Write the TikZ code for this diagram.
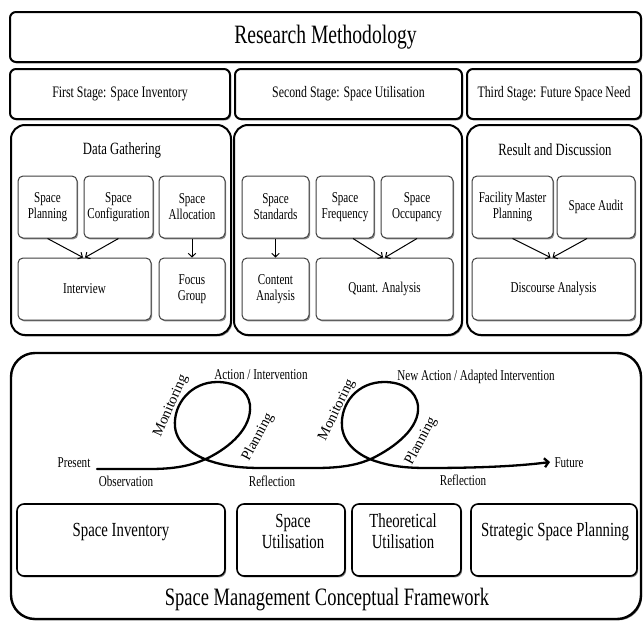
\documentclass[tikz,border=0pt]{standalone}
\usepackage{fontspec}
\setmainfont{Liberation Serif}[FakeStretch=0.74]
\newfontfamily\rotfont{Liberation Serif}
\usetikzlibrary{arrows.meta,shadows}
\begin{document}
\begin{tikzpicture}[x=1pt,y=-1pt,
  shad/.style={drop shadow={shadow xshift=1.2pt,shadow yshift=-1.4pt,opacity=0.45,fill=black}},
  topbox/.style={draw,line width=2pt,rounded corners=6pt,fill=white,shad,align=center,inner sep=0pt},
  outerbox/.style={draw,line width=2pt,rounded corners=14pt,fill=white,shad,inner sep=0pt},
  inbox/.style={draw=black!75,line width=1pt,rounded corners=5pt,fill=white,shad,align=center,inner sep=1pt,
    minimum height=62pt,font=\fontsize{15}{16}\selectfont},
  lowbox/.style={draw,line width=1.6pt,rounded corners=7pt,fill=white,shad,minimum height=72pt,inner sep=0pt},
  lowtext/.style={align=center,font=\fontsize{20}{21}\selectfont},
  head/.style={font=\fontsize{17.2}{18}\selectfont},
  lbl/.style={font=\fontsize{15}{16}\selectfont,inner sep=0pt},
  rlbl/.style={font=\rotfont\fontsize{14.5}{16}\selectfont,inner sep=0pt},
  arr/.style={line width=1pt,-{Straight Barb[length=3.5pt,width=7.5pt]}},
  curve/.style={line width=2.3pt,line cap=round,-{Straight Barb[length=4pt,width=9pt]}}]
\fill[white] (0,0) rectangle (644,621);
\useasboundingbox (0,0) rectangle (644,621);

% Research methodology
\node[topbox,minimum width=631pt,minimum height=50pt,font=\fontsize{26.5}{28}\selectfont] (rm) at (325.5,37) {Research Methodology};
\node[topbox,minimum width=220pt,minimum height=50pt,font=\fontsize{16}{17}\selectfont] (st1) at (120,94) {First Stage: Space Inventory};
\node[topbox,minimum width=227pt,minimum height=50pt,font=\fontsize{16}{17}\selectfont] (st2) at (348.5,94) {Second Stage: Space Utilisation};
\node[topbox,minimum width=174pt,minimum height=50pt,font=\fontsize{16}{17}\selectfont] (st3) at (554,94) {Third Stage: Future Space Need};

% outer panels
\node[outerbox,minimum width=220pt,minimum height=210pt] (o1) at (121,230) {};
\node[outerbox,minimum width=228pt,minimum height=210pt] (o2) at (348,230) {};
\node[outerbox,minimum width=174pt,minimum height=210pt] (o3) at (554,230) {};
\node[head] (dg) at (122,150) {Data Gathering};
\node[head] (rd) at (555,150) {Result and Discussion};

% inner boxes row 1
\node[inbox,minimum width=59pt] (sp) at (47.5,207) {Space\\Planning};
\node[inbox,minimum width=69pt] (sc) at (118.5,207) {Space\\Configuration};
\node[inbox,minimum width=66pt] (sa) at (192,207) {Space\\Allocation};
\node[inbox,minimum width=67pt] (ss) at (275.5,207) {Space\\Standards};
\node[inbox,minimum width=58pt] (sf) at (345,207) {Space\\Frequency};
\node[inbox,minimum width=72pt] (so) at (417,207) {Space\\Occupancy};
\node[inbox,minimum width=81pt] (fmp) at (512.5,207) {Facility Master\\Planning};
\node[inbox,minimum width=78pt] (aud) at (596,207) {Space Audit};
% row 2
\node[inbox,minimum width=133pt] (int) at (84.5,289) {Interview};
\node[inbox,minimum width=66pt] (fg) at (192,289) {Focus\\Group};
\node[inbox,minimum width=67pt] (ca) at (275.5,289) {Content\\Analysis};
\node[inbox,minimum width=137pt] (qa) at (384.5,289) {Quant. Analysis};
\node[inbox,minimum width=163pt] (da) at (553.5,289) {Discourse Analysis};

% arrows
\draw[arr] (sp.south) -- ([xshift=-1.5pt]int.north);
\draw[arr] (sc.south) -- ([xshift=0.5pt]int.north);
\draw[arr] (sa.south) -- (fg.north);
\draw[arr] (ss.south) -- (ca.north);
\draw[arr] ([xshift=8pt]sf.south) -- ([xshift=-1.5pt]qa.north);
\draw[arr] (so.south) -- ([xshift=0.5pt]qa.north);
\draw[arr] (fmp.south) -- ([xshift=-3pt]da.north);
\draw[arr] ([xshift=-9pt]aud.south) -- ([xshift=-1pt]da.north);

% bottom panel
\node[outerbox,line width=2.4pt,rounded corners=24pt,minimum width=630pt,minimum height=266pt] (fw) at (326,486) {};
\node[lowbox,minimum width=208pt] (si) at (121,540) {};
\node[lowbox,minimum width=108pt] (su) at (291,540) {};
\node[lowbox,minimum width=109pt] (tu) at (406.5,540) {};
\node[lowbox,minimum width=166pt] (ssp) at (554,540) {};
\node[lowtext] (sit) at (121,532) {Space Inventory};
\node[lowtext] (sut) at (293,531) {Space\\Utilisation};
\node[lowtext] (tut) at (403,531) {Theoretical\\Utilisation};
\node[lowtext] (sspt) at (555,532) {Strategic Space Planning};
\node[font=\fontsize{25}{26}\selectfont] (fwt) at (327,600) {Space Management Conceptual Framework};

% curve
\coordinate (cstart) at (97,469);
\coordinate (cend) at (550,462);
\draw[curve] (cstart) -- (150,469) .. controls (180,469) and (195,464) .. (208,458)
  .. controls (230,447) and (252,428) .. (250,405)
  .. controls (248,390) and (235,382) .. (217,382)
  .. controls (192,382) and (173,403) .. (175,427)
  .. controls (177,445) and (195,456) .. (210,461)
  .. controls (225,466) and (240,468) .. (262,468)
  -- (315,468) .. controls (345,468) and (360,464) .. (373,458)
  .. controls (395,447) and (420,428) .. (418,406)
  .. controls (416,390) and (402,382) .. (384,382)
  .. controls (358,382) and (340,403) .. (342,427)
  .. controls (344,445) and (360,456) .. (375,461)
  .. controls (390,466) and (405,468) .. (427,468)
  .. controls (480,468) and (520,466) .. (cend);

\node[lbl] (pres) at (74,463) {Present};
\node[lbl] (obs) at (126,481) {Observation};
\node[lbl] (act) at (261,375) {Action / Intervention};
\node[lbl] (ref1) at (272,481) {Reflection};
\node[lbl] (nact) at (476,377) {New Action / Adapted Intervention};
\node[lbl] (ref2) at (463,480) {Reflection};
\node[lbl] (fut) at (569,463) {Future};
\node[rlbl,rotate=66] (mon1) at (171,406) {Monitoring};
\node[rlbl,rotate=62] (pla1) at (258,437) {Planning};
\node[rlbl,rotate=64] (mon2) at (337,410) {Monitoring};
\node[rlbl,rotate=62] (pla2) at (421,441) {Planning};
\end{tikzpicture}
\end{document}
